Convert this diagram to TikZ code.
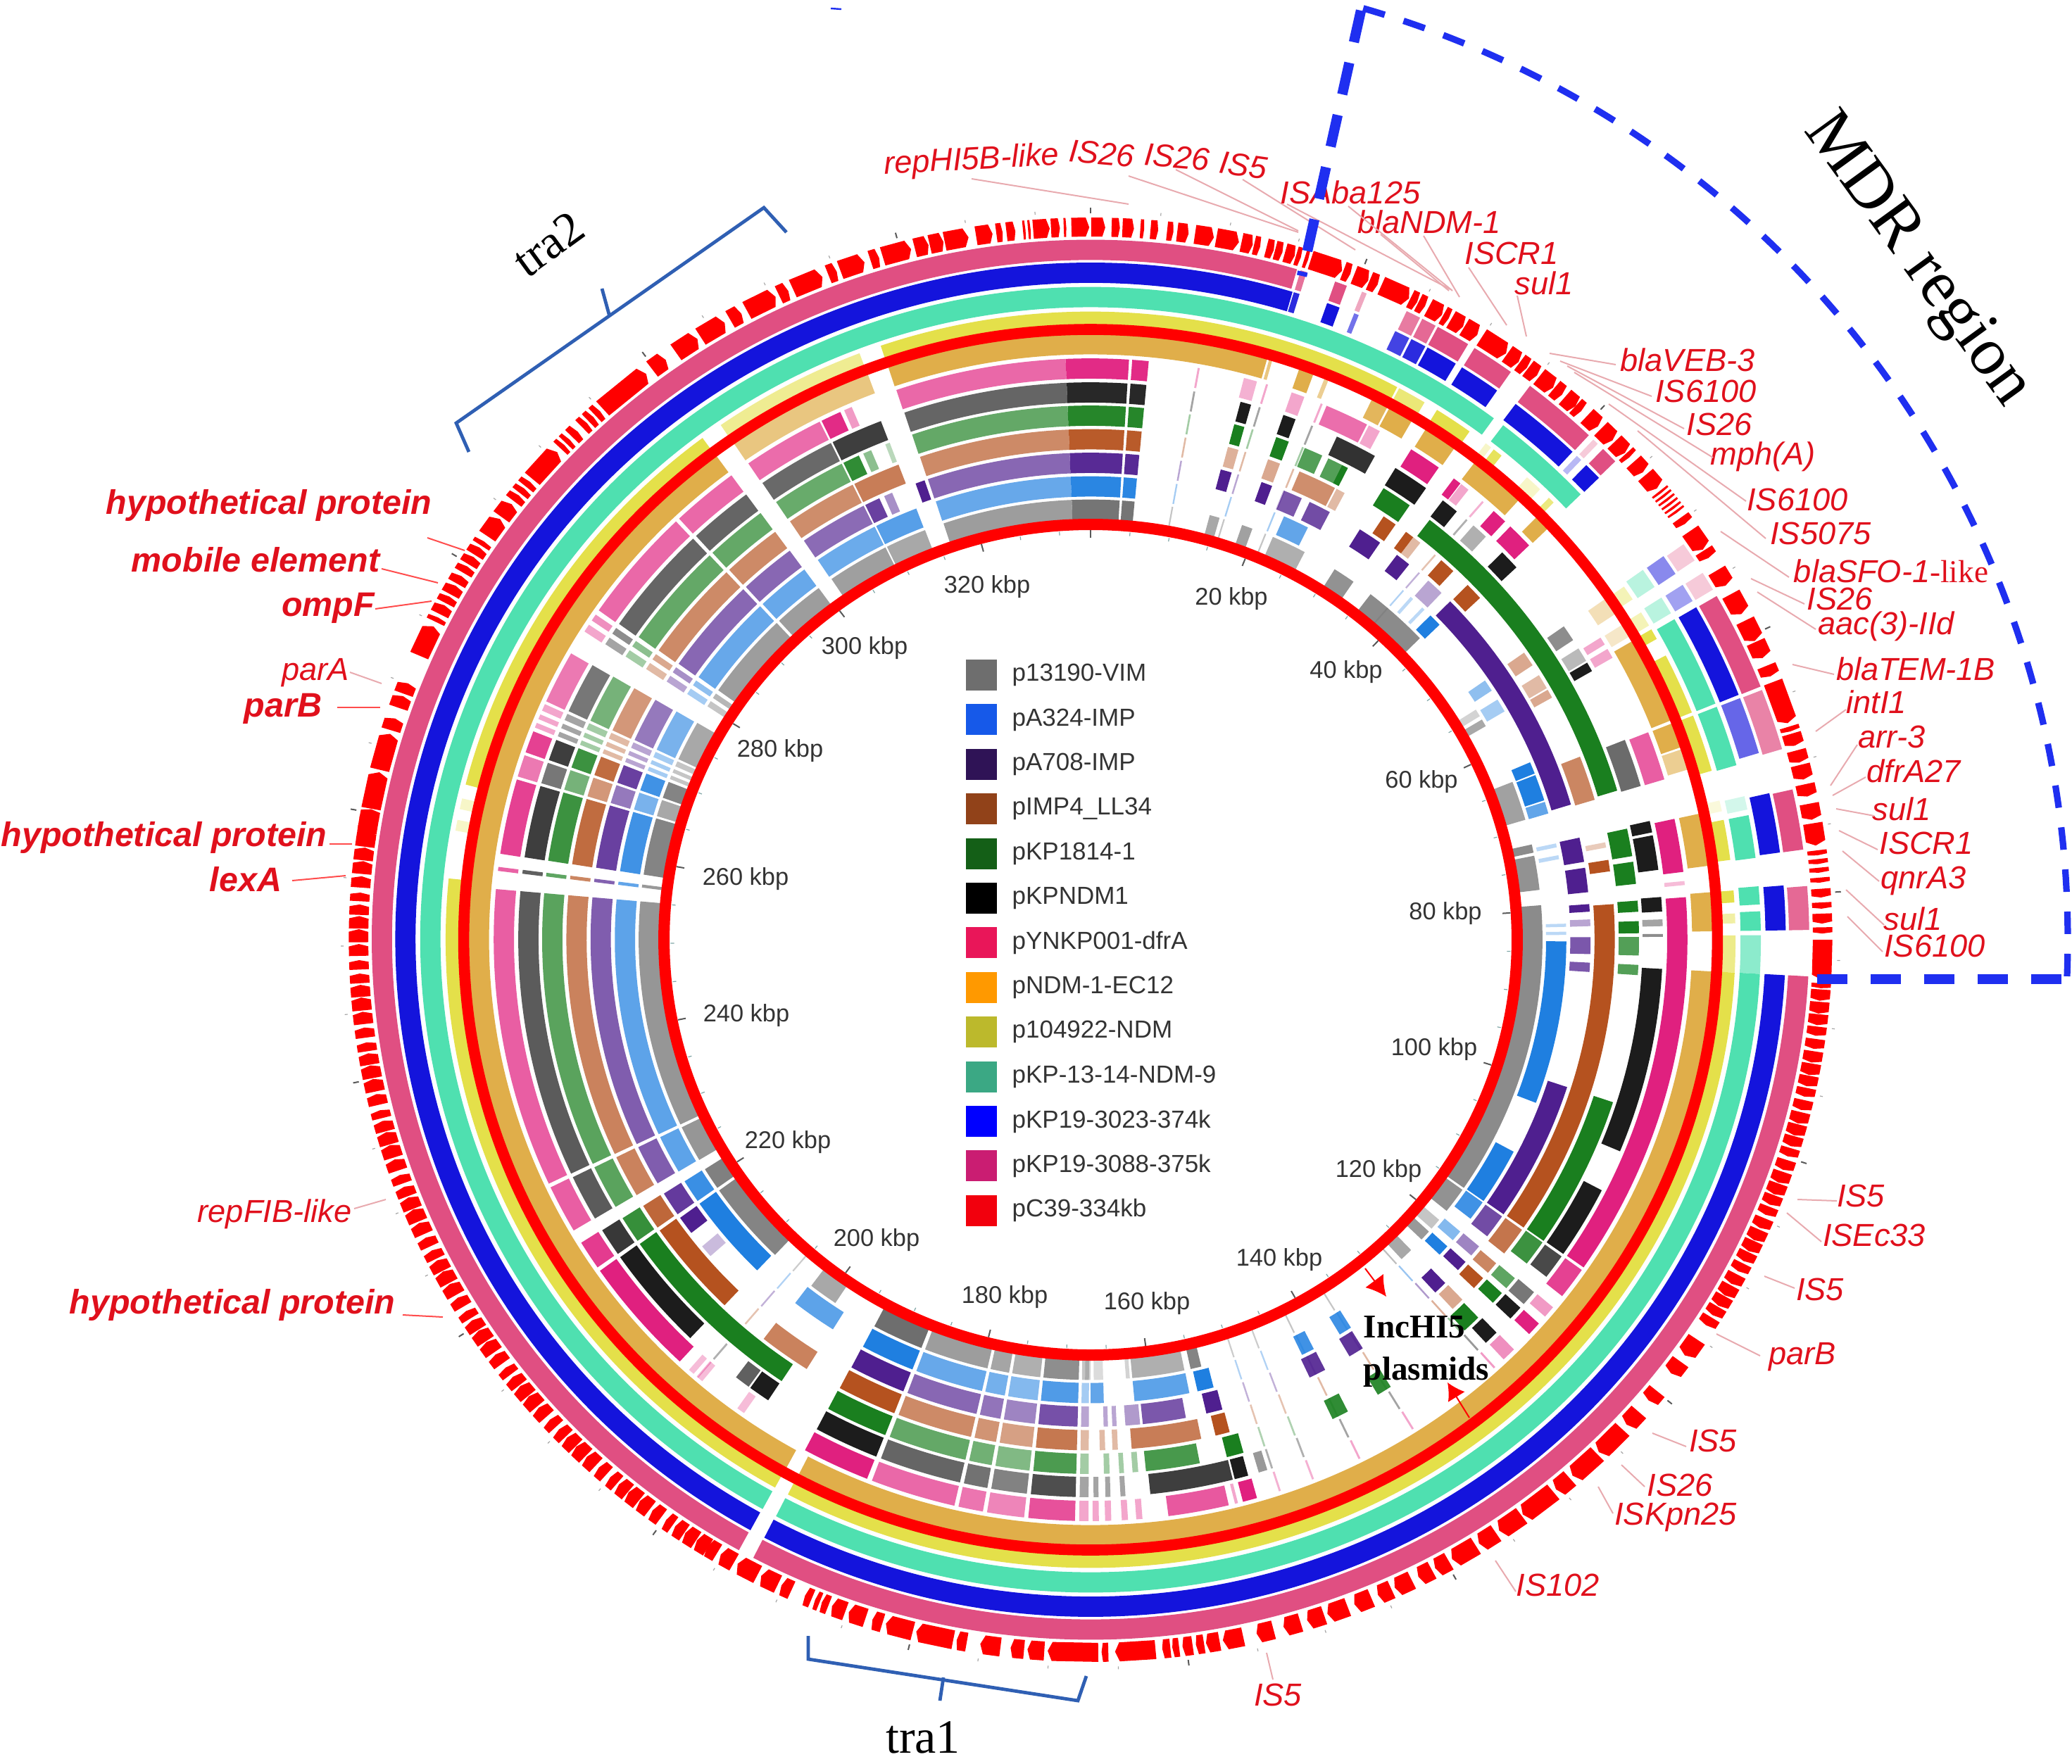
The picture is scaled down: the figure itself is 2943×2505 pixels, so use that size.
\documentclass[tikz,border=0pt]{standalone}
\usepackage{fontspec}
\setmainfont{Liberation Serif}
\setsansfont{Liberation Sans}
\usetikzlibrary{positioning,arrows.meta}

\definecolor{ringGray}{HTML}{6E6E6E}
\definecolor{ringSky}{HTML}{1F7FE0}
\definecolor{ringPurple}{HTML}{4F1F8F}
\definecolor{ringBrown}{HTML}{B5521F}
\definecolor{ringGreen}{HTML}{1A7F1F}
\definecolor{ringBlack}{HTML}{1C1C1C}
\definecolor{ringMagenta}{HTML}{E0207F}
\definecolor{ringOrange}{HTML}{E0AE4A}
\definecolor{ringYellow}{HTML}{E4E04A}
\definecolor{ringTeal}{HTML}{4FE0B0}
\definecolor{ringBlue}{HTML}{1414DC}
\definecolor{ringPink}{HTML}{E04F82}
\definecolor{geneRed}{HTML}{FF0000}
\definecolor{labelRed}{HTML}{E0101C}
\definecolor{leaderPink}{HTML}{E8AAAF}
\definecolor{mdrBlue}{HTML}{1F2FF0}
\definecolor{traBlue}{HTML}{2F5FB3}

\tikzset{
  ringline/.style={line width=7.2pt,line cap=butt},
  leader/.style={draw=leaderPink,line width=.5pt},
  leaderbold/.style={draw=red!60!pink,line width=.5pt},
  genelabel/.style={text=labelRed,font=\sffamily\itshape\fontsize{11.3}{13}\selectfont,inner sep=0pt},
  boldlabel/.style={text=labelRed,font=\sffamily\bfseries\itshape\fontsize{12.1}{14}\selectfont,inner sep=0pt},
  kbplabel/.style={text=black!80,font=\sffamily\fontsize{8.6}{10}\selectfont,inner sep=0pt},
  swatch/.style={minimum width=11pt,minimum height=11pt,inner sep=0pt},
  legendtext/.style={text=black!80,font=\sffamily\fontsize{8.75}{10}\selectfont,inner sep=0pt},
  tralabel/.style={font=\rmfamily\fontsize{17}{20}\selectfont,inner sep=0pt},
  bracket/.style={draw=traBlue,line width=1.2pt},
}

\newcommand{\ringseg}[3]{%
  \foreach \sa/\sb/\so in {#3}
    \draw[ringline,draw=#2,opacity=\so] ({90-\sa}:#1) arc[start angle={90-\sa},end angle={90-\sb},radius=#1];}
\newcommand{\gene}[2]{%
  \pgfmathsetmacro\gt{min(.35,.2*abs(#2-(#1)))}%
  \fill[geneRed] ({90-(#1)}:999) -- ({90-(#1)}:1026) -- ({90-(#2)+\gt}:1026) -- ({90-(#2)}:1012) -- ({90-(#2)+\gt}:999) -- cycle;}

\begin{document}
\begin{tikzpicture}[x=.25pt,y=-.25pt]
\useasboundingbox (0,0) rectangle (2943,2505);

\begin{scope}[shift={(1549,1335)},x=.25675pt,y=.25pt]
  % outer plasmids
  \ringseg{980}{ringPink}{93/208/1,209.3/376.7/1,377/377.5/.8,19.9/20.9/1,22.2/22.6/.5,26.1/27.3/.75,27.5/28.7/.85,28.9/31.7/1,32.3/35.8/1,37.7/43.9/1,44.4/44.9/.3,45.5/46.9/1,55.6/57.2/.3,58.4/60/.3,60.6/68.8/1,69.1/74.2/.7,77.6/82.6/1,85.6/89.2/.85}
  \ringseg{947.5}{ringBlue}{93/208/1,209.3/376.9/1,377/377.5/.9,19.9/21/1,22.3/22.7/.6,26/27.3/.8,27.5/28.8/.9,29/31.7/1,32.3/35.8/1,37.7/43.9/1,44.4/44.9/.3,45.5/47/1,55.5/57.3/.5,58.4/60/.4,60.6/68.8/1,69.1/74/.65,77.5/82.6/1,85.4/89.2/1}
  \ringseg{913}{ringTeal}{93/208/1,209.3/397/1,38/47/1,55.5/57.3/.4,58.4/60/.4,60.6/68.8/1,69.1/74.5/1,77.3/78.5/.25,79/82.8/1,85.3/86.9/1,87.5/89.2/1,89.6/93/.65}
  \ringseg{878}{ringYellow}{93/208/1,209.3/275.6/1,280/281/.3,282/283/.3,284.3/323/1,325/339/.6,341/388.4/1,388.6/391.2/.75,32.5/36/1,37.8/38.4/.3,38.7/39.6/.9,42.6/44.2/.3,45.3/45.9/.7,55.8/57.2/.4,58.6/60/.4,60.4/61.4/1,63.1/68.8/1,69.1/74.4/1,77.2/78.2/.2,79/82.7/1,85.5/86.6/1,87.6/88.5/.5,89.6/93/.65}
  \ringseg{846}{ringOrange}{93/208/1,209.3/323/1,325/339/.7,341/376.5/1,376.7/377/.7,19.6/21/1,22.1/22.5/.6,26.9/28.5/.9,28.7/31.1/1,32.6/35.8/1,38.1/43.5/1,45.8/47.3/1,55.8/57.5/.4,58.7/60/.3,60.5/68.8/1,69.1/71.5/1,71.7/73.7/.6,78/83/1,85.5/89.2/1}

  % the seven inner plasmids, parts shared by all of them
  \foreach \rad/\ringcol in {611/ringGray,644/ringSky,677.5/ringPurple,711/ringBrown,744.5/ringGreen,777.5/ringBlack,811.5/ringMagenta}{
    \ringseg{\rad}{\ringcol}{245.2/275/.72,276.8/277.2/.7,278.5/286/.85,286.3/288.5/.6,288.8/291/.85,291.4/291.9/.4,292.3/292.8/.4,293.2/293.9/.4,294.2/299.5/.6,302/302.8/.4,303.3/304/.5,304.5/316/.68,316.4/323/.68,325/333/.66,341/357.6/.68,357.6/363.7/.95,364/365.6/.95,240/244.8/.72,235.7/238.6/.88,10.35/10.55/.4,17.1/17.3/.4,22.7/22.9/.4,41/41.2/.35,137.3/137.5/.45,147.2/147.4/.4,153.1/153.3/.4,158/158.2/.35,161.4/161.6/.35,221.1/221.3/.35}
  }
  \foreach \rad/\ringcol in {644/ringSky,677.5/ringPurple,711/ringBrown,744.5/ringGreen,777.5/ringBlack,811.5/ringMagenta,611/ringGray}{
    \ringseg{\rad}{\ringcol}{202/208.6/1,181.5/186/.78,186.4/190/.55,190.4/192.8/.62,193.2/201.5/.68,180.2/181.1/.4}
  }

  % per plasmid
  \ringseg{811.5}{ringMagenta}{333.2/335.2/.95,335.6/336.4/.45,14.9/16.2/.35,19.7/21/.4,23.3/27.6/.65,27.8/29/.4,32.5/35.7/1,37.5/38.3/1,38.4/39.3/.4,42.5/44/1,44.7/47.3/1,58.7/59.5/.4,60/61/.4,69.1/74/.72,78/83.3/1,84.2/84.6/.3,85.8/124.3/1,124.6/127.8/.85,129.2/130.4/.45,131.3/132.7/1,134.8/136.2/.5,223.5/235.3/1,221.7/222.3/.3,220.6/221.2/.3,215.5/216.3/.3,163.8/165.2/1,165.7/166/.4,166.6/172.5/.75,175/175.6/.4,176.4/177/.4,178/178.6/.4,179.2/179.8/.4}
  \ringseg{777.5}{ringBlack}{333.2/338.5/.85,15.2/16.3/1,19.7/21/1,25.5/29.8/.9,32.2/35.9/1,38/39.8/1,42/43.7/.35,46/48.1/1,55.8/57.5/.5,58.5/60/.3,60.2/61.2/1,69/74/.65,77.7/78.9/1,79.2/82.8/1,85.6/87.1/1,87.9/88.6/.4,89.4/89.7/.5,93/112.3/1,116.7/124.3/1,124.6/127.2/.8,129.2/130.8/.6,131.3/132.8/1,134.8/136.3/1,162/162.9/.45,224.4/235.3/1,214.3/216.5/1,216.7/218.3/.7,164/165.4/1,165.6/174/.85,176.5/177/.4,178/178.5/.4,179.2/179.7/.4}
  \ringseg{744.5}{ringGreen}{333.2/335/.9,335.5/336.4/.5,338/338.5/.3,15.2/16.3/1,19.8/21.2/1,23/25/.75,25.7/27.3/.75,27.3/28/1,32.3/35.6/1,38.2/73.8/1,78/81/1,81.6/84/1,85.8/87/1,88/89.3/1,89.7/91.7/.75,92.7/93.8/.75,107.7/124.3/1,124.5/127.3/.85,129.3/130.7/.7,131.4/132.8/1,135/137/1,146.8/148.4/.9,152/153.8/.9,214.3/235.3/1,163.8/165.6/1,168.5/174.2/.8,175/175.6/.4,176.5/177/.4,178/178.6/.4}
  \ringseg{711}{ringBrown}{333.2/338.5/.75,15.2/16.4/.45,19.8/21.2/.5,23.5/27.8/.65,28/29/.4,34/35.6/1,37/38/1,38/39/.4,42/43.8/1,46/48/1,55.8/57.5/.5,58.8/60.5/.4,60.7/61.7/.5,69/74.1/.7,79/79.6/.3,81/82.3/1,86/124.3/1,124.6/127.9/.8,129.3/130.7/.7,131.5/133/1,134.8/136.3/.5,224.3/235.3/1,212.8/218.6/.72,164.6/166.2/1,167.8/175.5/.75,177/177.6/.4,178.4/179/.4}
  \ringseg{677.5}{ringPurple}{333.2/335/.85,335.6/336.6/.5,339.5/340.6/1,15.1/16.4/1,20/21.3/1,22.8/25/.75,26/28.6/.8,32.6/35.4/1,37.8/39.6/1,42.5/44.6/.4,46/73.9/1,77.9/80.8/1,81.5/84.4/1,85.8/86.7/1,87.6/88.4/.4,89.7/91.7/.75,92.7/93.8/.75,107.6/124.3/1,124.6/127.5/.8,129/130.4/.55,131.4/132.7/1,134.8/136.4/1,147/148.8/.9,152/154/.9,233/235.2/1,229.5/231/.3,164.7/166.6/1,169/174/.75,174.3/176/.45,177/177.5/.4,178/178.5/.4}
  \ringseg{644}{ringSky}{333.2/338.5/.75,24/27.2/.7,42.3/42.7/.3,44.2/44.6/.3,45.6/47.2/1,56/57.5/.5,58.8/60.5/.4,67.5/69/1,69.2/72.5/1,72.7/74.2/.7,78/78.5/.3,79.5/80/.3,88/88.4/.3,89/89.4/.3,90.2/110.6/1,117.2/124.3/1,124.5/127/.85,129/130.4/.55,131.4/132.8/1,146.8/148.4/.85,152/153.6/.85,224.5/235.3/1,212.8/218.4/.72,165/167/1,168/174.7/.72,178.4/180/.7}
  \ringseg{611}{ringGray}{333.2/338.5/.6,15.3/16.6/.6,19.6/21/.65,23.8/28.3/.55,32.7/35.6/.75,38.3/46.8/.8,58.5/59.5/.3,60/61/.6,69/74.2/.65,77.5/78.6/.8,79/83.5/.75,85.5/124.3/.8,124.6/128/.75,129.5/131/.4,131.5/132.9/.7,134.8/136.5/.6,224.3/235.3/.85,214.4/218.2/.6,165.8/167.2/.85,168/174.7/.55,175/175.5/.3,178.4/179.6/.25,180/180.7/.3}

  % red circles over the rings
  \draw[red,line width=3.9pt] (0,0) ellipse[x radius=867,y radius=867];
  \draw[red,line width=4pt] (0,0) ellipse[x radius=590,y radius=590];

  % ticks
  \foreach \k in {0,5,...,330}{
    \pgfmathsetmacro\ka{90-\k*1.078}
    \draw[black!35,line width=.3pt] (\ka:1033) -- (\ka:1037);
    \draw[teal!60!black!50,line width=.3pt] (\ka:576) -- (\ka:581);
  }
  \foreach \k in {0,20,...,320}{
    \pgfmathsetmacro\ka{90-\k*1.078}
    \draw[black!65,line width=.5pt] (\ka:1032) -- (\ka:1040);
    \draw[black!65,line width=.5pt] (\ka:571) -- (\ka:582);
  }

  % genes
  \foreach \ga/\gb in {-36.8/-35.5,-41.8/-37.4,-42.6/-42.1,-43.3/-42.8,-44/-43.5,-45.1/-44.5,-45.8/-45.4,-46.4/-46,-49.7/-46.8,-50.5/-50,-51.2/-50.7,-52/-51.4,-53.6/-52.3,-55.5/-53.8,-56.4/-56,-57.3/-56.6,-58.2/-57.5,-59/-58.4,-60/-59.3,-61/-60.2,-61.8/-61.2,-62.8/-62,-63.5/-63.1,-66.5/-63.9,-69.8/-68.9,-71/-70,-72.9/-71.9,-76.2/-73.2,-79.4/-76.4,-81/-79.9,-81.9/-81.3,-34.5/-32.5,-32.2/-30,-29.5/-28.5,-28/-25.5,-25.2/-24.4,-24/-21.5,-21/-20.3,-20/-18,-17.5/-16.8,-16.5/-14.2,-13.9/-12.8,-12.7/-11.6,-11.5/-9.6,-9/-7.7,-7.4/-6.9,-6.6/-5.9,-5.3/-5.1,-4.9/-4.7,-4.5/-3.2,-3.1/-2.4,-2.1/-1.9,-1.5/-.1,.05/1.15,1.65/2.3,2.5/3.4,3.9/4.2,4.7/5.3,6/6.5,6.8/7.7,8.2/9.7,9.9/11.7,11.9/12.8,12.9/13.4,13.9/14.5,14.6/15.2,15.4/16.2,16.3/16.7,17/17.3,17.5/20.1,20.2/20.8,21.1/22.3,22.4/23.1,23.4/25.8,25.9/26.5,26.6/27.2,27.5/28.7,28.8/29.3,29.5/30.6,30.7/31.9,32.3/34.6,34.7/35.8,35.9/36.6,36.7/37.6,37.8/39.2,39.3/40.1,40.4/41.5,41.5/42.1,42.7/43.9,44.2/45.5,45.7/46.9,47/47.4,47.9/49,49.3/50.7,51/51.2,51.4/51.6,51.8/52,52.2/52.4,52.6/52.8,53/53.2,53.7/54.3,55/56.8,56.9/57.6,58.8/60.2,61/62.8,63.4/65.2,65.3/66.7,67.4/68.3,68.8/72.3,72.6/73,73.2/74.2,74.6/75.6,75.8/77,77.4/78.4,79/80.3,80.6/82.4,82.8/83.2,83.5/83.9,84.2/84.6,85/85.4,85.9/86.6,87/87.5,87.9/88.7,89/89.5,90/93.2,93.5/93.9,124.1/125.7,126.3/127.5,129.3/130.3,131.5/132.9,133.4/136,136.2/138.8,139.1/140.5}
    \gene{\ga}{\gb};
  % dense stretches
  \foreach \ga in {94,95,...,122}{
    \pgfmathsetmacro\gb{\ga+.7+.25*abs(sin(\ga*37))}
    \gene{\ga}{\gb}
  }
  \foreach \ga in {211.5,212.6,...,280}{
    \pgfmathsetmacro\gb{\ga+.65+.4*abs(sin(\ga*31))}
    \gene{\ga}{\gb}
  }
  \foreach \za/\zb in {1215/1260,1180/1213,1150/1175,1110/1145,1085/1105,1060/1080,1025/1050,1000/1020,965/990,925/955,895/920,860/885,820/845,770/800,745/765,730/742,710/725,695/705,680/692,610/670,590/600,510/585,480/505,455/475,410/440,375/390,315/370,270/310,250/265,215/240,190/210,175/185,165/172,150/160,115/130,85/110,50/80,25/45,5/20}{
    \pgfmathsetmacro\ga{180-asin((\zb*.957-549)/1039)}
    \pgfmathsetmacro\gb{180-asin((\za*.957-549)/1039)}
    \gene{\ga}{\gb}
  }
\end{scope}

% position labels on the inner circle
\foreach \t/\x/\y in {20/1749/851,40/1912/955,60/2019/1111,80/2053/1298,100/2037/1491,120/1958/1664,140/1817/1790,160/1629/1852,180/1427/1843,200/1245/1762,220/1119/1623,240/1060/1443,260/1059/1249,280/1108/1067,300/1228/921,320/1402/834}
  \node[kbplabel] (kb\t) at (\x,\y) {\t{} kbp};

% legend
\foreach \i/\swcol/\txt in {0/ringGray/p13190-VIM,1/ringSky!70!blue/pA324-IMP,2/ringPurple!60!black/pA708-IMP,3/ringBrown!80!black/pIMP4\_LL34,4/ringGreen!75!black/pKP1814-1,5/black/pKPNDM1,6/ringMagenta!70!red/pYNKP001-dfrA,7/orange!80!yellow/pNDM-1-EC12,8/ringYellow!60!olive/p104922-NDM,9/ringTeal!75!black/pKP-13-14-NDM-9,10/blue/pKP19-3023-374k,11/ringMagenta!90!black/pKP19-3088-375k,12/red!95!blue/pC39-334kb}{
  \node[swatch,fill=\swcol] (sw\i) at (1394,{959+63.4*\i}) {};
  \node[legendtext,right=5pt of sw\i] (lg\i) {\txt};
}

% gene names with their leaders
\foreach \i/\txt/\x/\y/\rot/\xa/\ya/\xb/\yb in {
  a/repHI5B-like/1380/229/3/1380/254/1603/290,
  b/IS26/1565/218/-5/1603/250/1844/330,
  c/IS26/1672/223/-5/1670/241/1844/328,
  d/IS5/1766/235/-8/1765/255/1925/355,
  e/ISAba125/1918/273/0/1828/290/2060/411,
  f/blaNDM-1/2030/315/0/1961/333/2058/413,
  g/ISCR1/2147/360/0/2086/380/2140/462,
  h/sul1/2193/402/0/2155/420/2168/478,
  i/blaVEB-3/2397/511/0/2295/518/2201/502,
  j/IS6100/2423/556/0/2346/563/2216/513,
  k/IS26/2442/603/0/2392/609/2226/520,
  l/mph(A)/2504/649/0/2433/650/2236/529,
  m/IS6100/2553/710/0/2480/712/2285/574,
  n/IS5075/2586/758/0/2508/765/2326/612,
  o/{blaSFO-1{\rmfamily\upshape -like}}/2686/811/0/2541/820/2444/755,
  p/IS26/2613/851/0/2563/858/2487/822,
  q/aac(3)-IId/2679/890/0/2579/894/2496/841,
  r/blaTEM-1B/2721/950/0/2605/958/2546/944,
  s/intI1/2665/997/0/2622/1008/2579/1039,
  t/arr-3/2687/1047/0/2638/1058/2600/1116,
  u/dfrA27/2718/1095/0/2650/1104/2603/1130,
  v/sul1/2701/1149/0/2662/1159/2608/1149,
  w/ISCR1/2736/1198/0/2667/1207/2612/1180,
  x/qnrA3/2732/1251/0/2669/1252/2617/1209,
  y/sul1/2717/1305/0/2676/1314/2622/1264,
  z/IS6100/2748/1344/0/2674/1352/2624/1302,
  aa/IS5/2643/1699/0/2609/1706/2553/1704,
  ab/ISEc33/2662/1755/0/2587/1764/2538/1723,
  ac/IS5/2585/1832/0/2549/1830/2506/1813,
  ad/parB/2560/1928/0/2500/1926/2438/1895,
  ae/IS5/2433/2047/0/2395/2055/2347/2036,
  af/IS26/2386/2110/0/2336/2112/2303/2081,
  ag/ISKpn25/2380/2155/0/2291/2150/2270/2112,
  ah/IS102/2213/2252/0/2153/2261/2124/2217,
  ai/IS5/1815/2408/0/1808/2386/1799/2348,
  aj/parA/448/956/0/497/955/542/971,
  ak/repFIB-like/390/1725/0/503/1717/548/1704}{
  \node[genelabel,rotate=\rot] (lb\i) at (\x,\y) {\txt};
  \coordinate (ls\i) at (\xa,\ya);
  \coordinate (le\i) at (\xb,\yb);
  \draw[leader] (ls\i) -- (le\i);
}
\coordinate (lsx) at (1915,293);
\coordinate (lex) at (2063,413);
\draw[leader] (lsx) -- (lex);
\coordinate (lsy) at (2022,335);
\coordinate (ley) at (2073,422);
\draw[leader] (lsy) -- (ley);

\foreach \i/\txt/\x/\y/\xa/\ya/\xb/\yb in {
  a/hypothetical protein/382/718/607/764/660/782,
  b/mobile element/363/795/542/808/622/828,
  c/ompF/466/864/533/865/613/854,
  d/parB/402/1007/479/1005/540/1005,
  e/hypothetical protein/233/1190/468/1199/500/1199,
  f/lexA/349/1249/415/1251/491/1244,
  g/hypothetical protein/330/1854/572/1868/629/1871}{
  \node[boldlabel] (bl\i) at (\x,\y) {\txt};
  \coordinate (bs\i) at (\xa,\ya);
  \coordinate (be\i) at (\xb,\yb);
  \draw[leaderbold] (bs\i) -- (be\i);
}

% MDR sector
\coordinate (mdrA) at (1933,15);
\coordinate (mdrB) at (1849,392);
\coordinate (mdrC) at (2581,1391);
\coordinate (mdrD) at (2937,1391);
\coordinate (mdrE) at (1180,12);
\coordinate (mdrF) at (1195,13);
\draw[mdrBlue,line width=3.6pt,dash pattern=on 11.5pt off 7.5pt] (mdrA) -- (mdrB);
\draw[mdrBlue,line width=3.4pt,dash pattern=on 10.7pt off 8.3pt] (mdrC) -- (mdrD);
\begin{scope}[shift={(1549,1335)},x=.25pt,y=.25pt]
  \draw[mdrBlue,line width=2.3pt,dash pattern=on 8pt off 7pt] (73.8:1388 and 1378) arc[start angle=73.8,end angle=-2.2,x radius=1388,y radius=1378];
\end{scope}
\draw[mdrBlue,line width=.6pt] (mdrE) -- (mdrF);
\node[tralabel,font=\rmfamily\fontsize{24}{28}\selectfont,rotate=-54] (mdrlabel) at (2722,370) {MDR region};

% tra brackets
\coordinate (trbA) at (666,642);
\coordinate (trbB) at (648,601);
\coordinate (trbC) at (1085,295);
\coordinate (trbD) at (1117,330);
\coordinate (trbE) at (866,450);
\coordinate (trbF) at (855,410);
\draw[bracket] (trbA) -- (trbB) -- (trbC) -- (trbD);
\draw[bracket] (trbE) -- (trbF);
\node[tralabel,rotate=36] (tratwo) at (779,347) {tra2};
\coordinate (traA) at (1148,2324);
\coordinate (traB) at (1148,2357);
\coordinate (traC) at (1531,2416);
\coordinate (traD) at (1543,2381);
\coordinate (traE) at (1340,2383);
\coordinate (traF) at (1335,2416);
\draw[bracket] (traA) -- (traB) -- (traC) -- (traD);
\draw[bracket] (traE) -- (traF);
\node[tralabel] (traone) at (1311,2468) {tra1};

% IncHI5 note
\node[font=\rmfamily\bfseries\fontsize{11.8}{15}\selectfont,align=left,anchor=west,inner sep=0pt] (inclabel) at (1936,1920) {IncHI5\\plasmids};
\coordinate (arrA) at (1939,1802);
\coordinate (arrB) at (1969,1842);
\coordinate (arrC) at (2087,2014);
\coordinate (arrD) at (2056,1964);
\draw[red,line width=.5pt,-{Latex[length=7pt,width=8pt]}] (arrA) -- (arrB);
\draw[red,line width=.5pt,-{Latex[length=6pt,width=7pt]}] (arrC) -- (arrD);
\end{tikzpicture}
\end{document}
